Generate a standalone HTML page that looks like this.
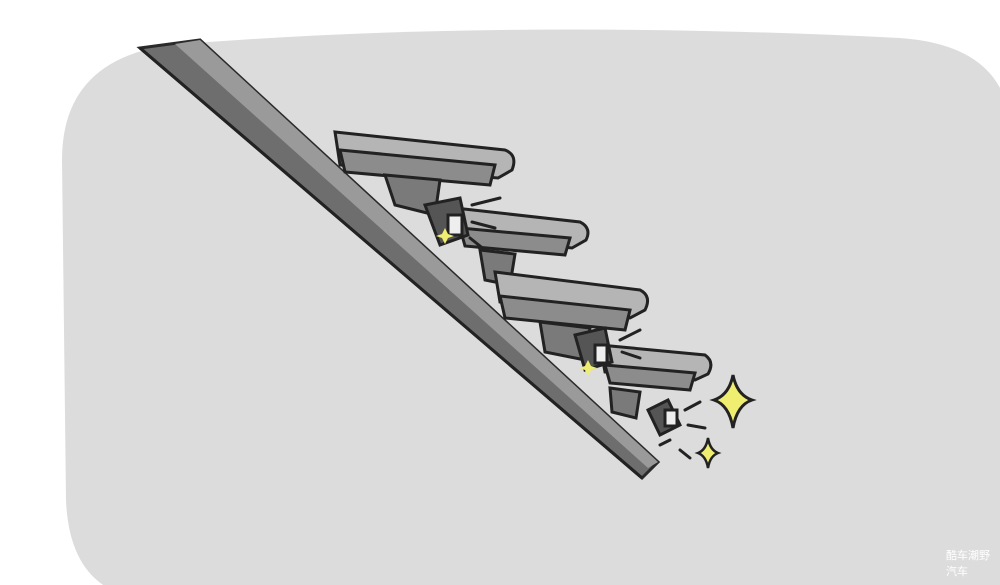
<!DOCTYPE html>
<html><head><meta charset="utf-8"><style>
html,body{margin:0;padding:0;background:#fff;width:1000px;height:585px;overflow:hidden}
</style></head><body>
<svg width="1000" height="585" viewBox="0 0 1000 585" xmlns="http://www.w3.org/2000/svg">
<rect x="0" y="0" width="1000" height="585" fill="#ffffff"/>
<path d="M170 45 Q500 18 900 38 Q1000 45 1010 120 L1010 600 L160 600 Q70 600 66 500 L62 160 Q62 60 170 45 Z" fill="#dcdcdc"/>
<!-- beam -->
<polygon points="140,48 200,40 658,462 642,478" fill="#6e6e6e" stroke="#2a2a2a" stroke-width="3"/>
<polygon points="175,44 200,40 658,462 648,468" fill="#9a9a9a"/>
<line x1="140" y1="48" x2="642" y2="478" stroke="#222" stroke-width="3"/>
<!-- cameras -->
<g stroke="#222" stroke-width="3" fill="#b5b5b5">
 <g>
  <path d="M335 132 L505 150 Q518 155 512 170 L498 178 L340 165 Z"/>
  <path d="M340 150 L495 165 L490 185 L345 172 Z" fill="#8c8c8c"/>
  <path d="M385 175 L440 180 L435 215 L395 205 Z" fill="#7a7a7a"/>
 </g>
 <g>
  <path d="M455 208 L580 222 Q592 228 586 240 L572 248 L460 236 Z"/>
  <path d="M460 228 L570 238 L565 255 L465 246 Z" fill="#8c8c8c"/>
  <path d="M480 250 L515 254 L510 285 L485 280 Z" fill="#7a7a7a"/>
 </g>
 <g>
  <path d="M495 272 L640 290 Q652 296 645 310 L630 318 L500 302 Z"/>
  <path d="M500 296 L630 310 L625 330 L505 318 Z" fill="#8c8c8c"/>
  <path d="M540 322 L590 328 L585 360 L545 352 Z" fill="#7a7a7a"/>
 </g>
 <g>
  <path d="M600 345 L705 355 Q715 362 708 374 L695 380 L605 372 Z"/>
  <path d="M605 365 L695 373 L690 390 L610 383 Z" fill="#8c8c8c"/>
  <path d="M610 388 L640 392 L636 418 L612 412 Z" fill="#7a7a7a"/>
 </g>
 <!-- falling pieces -->
 <path d="M425 205 L460 198 L468 235 L440 245 Z" fill="#555"/>
 <rect x="448" y="215" width="14" height="20" fill="#eee"/>
 <path d="M575 335 L605 328 L612 362 L585 370 Z" fill="#555"/>
 <rect x="595" y="345" width="12" height="18" fill="#eee"/>
 <path d="M648 410 L668 400 L680 425 L660 435 Z" fill="#555"/>
 <rect x="665" y="410" width="12" height="16" fill="#eee"/>
</g>
<!-- motion lines -->
<g stroke="#222" stroke-width="3" stroke-linecap="round">
 <line x1="472" y1="205" x2="500" y2="198"/><line x1="472" y1="222" x2="495" y2="228"/>
 <line x1="470" y1="238" x2="485" y2="250"/>
 <line x1="620" y1="340" x2="640" y2="330"/><line x1="622" y1="352" x2="640" y2="358"/>
 <line x1="685" y1="410" x2="700" y2="402"/><line x1="688" y1="425" x2="705" y2="428"/>
 <line x1="660" y1="445" x2="670" y2="440"/><line x1="680" y1="450" x2="690" y2="458"/>
</g>
<!-- sparkles -->
<path d="M733 375 Q737 395 752 400 Q737 405 733 428 Q729 405 714 400 Q729 395 733 375 Z" fill="#f0ee70" stroke="#222" stroke-width="3"/>
<path d="M708 438 Q710 450 718 453 Q710 456 708 468 Q706 456 698 453 Q706 450 708 438 Z" fill="#f0ee70" stroke="#222" stroke-width="2.5"/>
<path d="M445 228 l3 6 6 2 -6 2 -3 6 -3 -6 -6 -2 6 -2z" fill="#f0ee70"/>
<path d="M588 360 l3 6 6 2 -6 2 -3 6 -3 -6 -6 -2 6 -2z" fill="#f0ee70"/>
<text x="946" y="559" font-family="'Liberation Sans','Noto Sans CJK SC',sans-serif" font-size="11" fill="#fff">酷车潮野</text>
<text x="946" y="575" font-family="'Liberation Sans','Noto Sans CJK SC',sans-serif" font-size="11" fill="#fff">汽车</text>
</svg>
</body></html>
